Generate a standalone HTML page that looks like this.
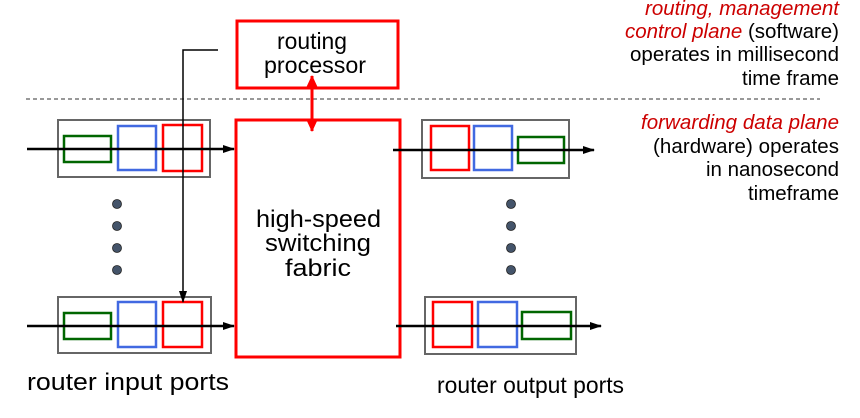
<!DOCTYPE html>
<html><head><style>body{margin:0;background:#fff}svg{display:block}text{font-family:"Liberation Sans",sans-serif}</style></head><body>
<svg width="860" height="418" viewBox="0 0 860 418" xmlns="http://www.w3.org/2000/svg">
<defs><marker id="ah" markerWidth="12" markerHeight="10" refX="11" refY="5" orient="auto" markerUnits="userSpaceOnUse"><path d="M0,1 L12,5 L0,9z" fill="#000"/></marker>
<marker id="rh" markerWidth="14" markerHeight="12" refX="12" refY="6" orient="auto-start-reverse" markerUnits="userSpaceOnUse"><path d="M0,0 L13,6 L0,12z" fill="#f00"/></marker></defs>
<line x1="26" y1="99" x2="820" y2="99" stroke="#333" stroke-dasharray="4,3" stroke-width="1"/>
<rect x="237" y="21" width="161" height="67" fill="#fff" stroke="#f00" stroke-width="3"/>
<text x="277" y="49" font-size="23" textLength="70" lengthAdjust="spacingAndGlyphs">routing</text>
<text x="264" y="73" font-size="23" textLength="102" lengthAdjust="spacingAndGlyphs">processor</text>
<rect x="236" y="120" width="164" height="237" fill="#fff" stroke="#f00" stroke-width="3"/>
<line x1="312" y1="76" x2="312" y2="131" stroke="#f00" stroke-width="3" marker-start="url(#rh)" marker-end="url(#rh)"/>
<text x="256" y="227" font-size="24" textLength="125" lengthAdjust="spacingAndGlyphs">high-speed</text>
<text x="265" y="251" font-size="24" textLength="106" lengthAdjust="spacingAndGlyphs">switching</text>
<text x="285" y="276" font-size="24" textLength="66" lengthAdjust="spacingAndGlyphs">fabric</text>
<rect x="58" y="120" width="152" height="57" fill="#fff" stroke="#666" stroke-width="2"/>
<rect x="64" y="136" width="47" height="26" fill="none" stroke="#060" stroke-width="2.5"/>
<rect x="118" y="126" width="38" height="44" fill="none" stroke="#4169e1" stroke-width="2.5"/>
<rect x="163" y="125" width="39" height="46" fill="none" stroke="#f00" stroke-width="2.5"/>
<line x1="27" y1="149" x2="234" y2="149" stroke="#000" stroke-width="2.5" marker-end="url(#ah)"/>
<rect x="58" y="297" width="153" height="56" fill="#fff" stroke="#666" stroke-width="2"/>
<rect x="64" y="313" width="47" height="26" fill="none" stroke="#060" stroke-width="2.5"/>
<rect x="118" y="302" width="38" height="45" fill="none" stroke="#4169e1" stroke-width="2.5"/>
<rect x="163" y="302" width="39" height="45" fill="none" stroke="#f00" stroke-width="2.5"/>
<line x1="27" y1="326" x2="234" y2="326" stroke="#000" stroke-width="2.5" marker-end="url(#ah)"/>
<polyline points="218,50 183,50 183,302" fill="none" stroke="#000" stroke-width="1.5" marker-end="url(#ah)"/>
<rect x="422" y="120" width="147" height="58" fill="#fff" stroke="#666" stroke-width="2"/>
<rect x="431" y="126" width="38" height="44" fill="none" stroke="#f00" stroke-width="2.5"/>
<rect x="474" y="126" width="38" height="44" fill="none" stroke="#4169e1" stroke-width="2.5"/>
<rect x="518" y="137" width="46" height="26" fill="none" stroke="#060" stroke-width="2.5"/>
<line x1="393" y1="150" x2="594" y2="150" stroke="#000" stroke-width="2.5" marker-end="url(#ah)"/>
<rect x="425" y="297" width="151" height="57" fill="#fff" stroke="#666" stroke-width="2"/>
<rect x="433" y="302" width="39" height="45" fill="none" stroke="#f00" stroke-width="2.5"/>
<rect x="478" y="302" width="39" height="45" fill="none" stroke="#4169e1" stroke-width="2.5"/>
<rect x="522" y="312" width="49" height="27" fill="none" stroke="#060" stroke-width="2.5"/>
<line x1="396" y1="326" x2="601" y2="326" stroke="#000" stroke-width="2.5" marker-end="url(#ah)"/>
<g fill="#44546a" stroke="#222" stroke-width="0.8">
<circle cx="117" cy="204" r="4.5"/><circle cx="117" cy="226" r="4.5"/><circle cx="117" cy="248" r="4.5"/><circle cx="117" cy="270" r="4.5"/>
<circle cx="511" cy="204" r="4.5"/><circle cx="511" cy="226" r="4.5"/><circle cx="511" cy="248" r="4.5"/><circle cx="511" cy="270" r="4.5"/>
</g>
<text x="27" y="390" font-size="24" textLength="202" lengthAdjust="spacingAndGlyphs">router input ports</text>
<text x="437" y="393" font-size="23" textLength="187" lengthAdjust="spacingAndGlyphs">router output ports</text>
<g font-size="20.5" lengthAdjust="spacingAndGlyphs">
<text x="645" y="15" fill="#c00" font-style="italic" textLength="194">routing, management</text>
<text x="625" y="38" textLength="214"><tspan fill="#c00" font-style="italic">control plane</tspan> (software)</text>
<text x="630" y="61" textLength="209">operates in millisecond</text>
<text x="742" y="85" textLength="97">time frame</text>
<text x="641" y="129" fill="#c00" font-style="italic" textLength="198">forwarding data plane</text>
<text x="653" y="153" textLength="186">(hardware) operates</text>
<text x="706" y="176" textLength="133">in nanosecond</text>
<text x="748" y="200" textLength="91">timeframe</text>
</g>
</svg>
</body></html>
